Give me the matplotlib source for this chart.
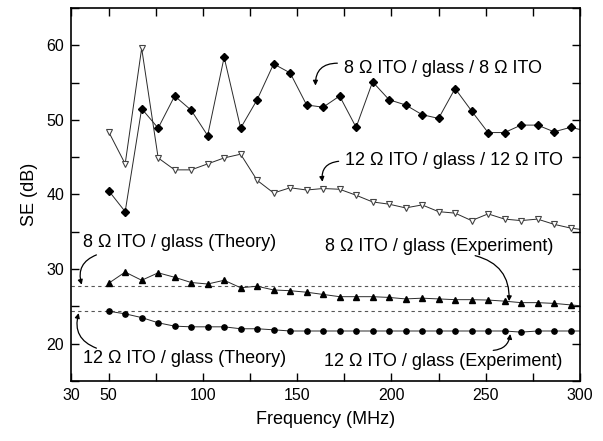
import numpy as np
import matplotlib
matplotlib.use("Agg")
import matplotlib.pyplot as plt
from matplotlib.ticker import MultipleLocator, FixedLocator

plt.rcParams['font.family'] = ['Liberation Sans', 'DejaVu Sans']

# frequency sweep (MHz), last point falls just outside the axis
freq = [50, 58.75, 67.5, 76.25, 85, 93.75, 102.5, 111.25, 120, 128.75,
        137.5, 146.25, 155, 163.75, 172.5, 181.25, 190, 198.75, 207.5, 216.25,
        225, 233.75, 242.5, 251.25, 260, 268.75, 277.5, 286.25, 295, 303.75]

# 8 ohm ITO / glass / 8 ohm ITO
se_8_double = [40.5, 37.7, 51.5, 48.9, 53.2, 51.3, 47.9, 58.4, 48.9, 52.7,
               57.5, 56.3, 52.0, 51.7, 53.2, 49.0, 55.1, 52.7, 52.0, 50.7,
               50.2, 54.2, 51.2, 48.3, 48.3, 49.3, 49.3, 48.4, 49.0, 48.5]

# 12 ohm ITO / glass / 12 ohm ITO
se_12_double = [48.4, 44.1, 59.6, 44.9, 43.3, 43.3, 44.1, 44.9, 45.4, 41.9,
                40.2, 40.9, 40.6, 40.8, 40.7, 39.9, 39.0, 38.7, 38.2, 38.6,
                37.7, 37.5, 36.5, 37.4, 36.7, 36.5, 36.7, 36.0, 35.5, 35.2]

# 8 ohm ITO / glass (experiment)
se_8_single = [28.1, 29.6, 28.5, 29.5, 28.9, 28.2, 28.0, 28.5, 27.5, 27.7,
               27.2, 27.1, 26.9, 26.6, 26.3, 26.3, 26.3, 26.2, 26.0, 26.1,
               26.0, 25.9, 25.9, 25.85, 25.7, 25.5, 25.5, 25.4, 25.2, 25.0]

# 12 ohm ITO / glass (experiment)
se_12_single = [24.35, 24.0, 23.5, 22.8, 22.35, 22.26, 22.26, 22.26, 22.0, 22.0,
                21.86, 21.7, 21.7, 21.7, 21.7, 21.7, 21.7, 21.7, 21.7, 21.7,
                21.7, 21.7, 21.7, 21.7, 21.7, 21.55, 21.7, 21.7, 21.7, 21.7]

theory_8 = 27.7
theory_12 = 24.35

fig = plt.figure(figsize=(6.03, 4.41), dpi=100)
ax = fig.add_axes([0.1177, 0.1361, 0.8441, 0.8458])

lc = '#2a2a2a'
ax.axhline(theory_8, color='#555555', lw=0.8, dashes=(3, 3))
ax.axhline(theory_12, color='#555555', lw=0.8, dashes=(3, 3))

ax.plot(freq, se_8_double, color=lc, lw=0.7, marker='D', ms=4.3, mfc='black', mec='black')
ax.plot(freq, se_12_double, color=lc, lw=0.7, marker='v', ms=5, mfc='white', mec='#444444', mew=0.8)
ax.plot(freq, se_8_single, color=lc, lw=0.7, marker='^', ms=4.8, mfc='black', mec='black')
ax.plot(freq, se_12_single, color=lc, lw=0.7, marker='o', ms=3.8, mfc='black', mec='black')

ax.set_xlim(30, 300)
ax.set_ylim(15, 65)
ax.xaxis.set_major_locator(FixedLocator([30, 50, 100, 150, 200, 250, 300]))
ax.xaxis.set_minor_locator(FixedLocator([75, 125, 175, 225, 275]))
ax.yaxis.set_major_locator(MultipleLocator(10))
ax.yaxis.set_minor_locator(MultipleLocator(5))
ax.tick_params(which='both', direction='in', top=True, right=True, labelsize=11.5, width=1)
ax.tick_params(which='major', length=6, pad=5)
ax.tick_params(which='minor', length=6)
for s in ax.spines.values():
    s.set_linewidth(1.2)

ax.set_xlabel('Frequency (MHz)', fontsize=13, labelpad=6)
ax.set_ylabel('SE (dB)', fontsize=13, labelpad=6)

fs = 13
ax.text(174.6, 56.9, '8 Ω ITO / glass / 8 Ω ITO', fontsize=fs, va='center')
ax.text(175.6, 44.6, '12 Ω ITO / glass / 12 Ω ITO', fontsize=fs, va='center')
ax.text(36.3, 33.6, '8 Ω ITO / glass (Theory)', fontsize=fs, va='center')
ax.text(36.3, 18.0, '12 Ω ITO / glass (Theory)', fontsize=fs, va='center')
ax.text(165, 33.0, '8 Ω ITO / glass (Experiment)', fontsize=fs, va='center')
ax.text(164, 17.6, '12 Ω ITO / glass (Experiment)', fontsize=fs, va='center')

# curved pointer arrows
arrows = [
    ((171.3, 57.6), (159.7, 54.6), 0.5),
    ((172.0, 44.45), (163.4, 41.7), 0.5),
    ((43.5, 31.9), (35.7, 27.9), 0.45),
    ((43.5, 19.4), (34.1, 24.1), -0.45),
    ((244.4, 31.8), (262.4, 25.7), -0.4),
    ((254.0, 19.1), (263.0, 21.3), 0.4),
]
for start, tip, rad in arrows:
    ax.annotate('', xy=tip, xytext=start,
                arrowprops=dict(arrowstyle='-|>', color='black', lw=0.9,
                                mutation_scale=7, shrinkA=0, shrinkB=0,
                                connectionstyle='arc3,rad=%s' % rad))

fig.savefig('out.png', dpi=100)
